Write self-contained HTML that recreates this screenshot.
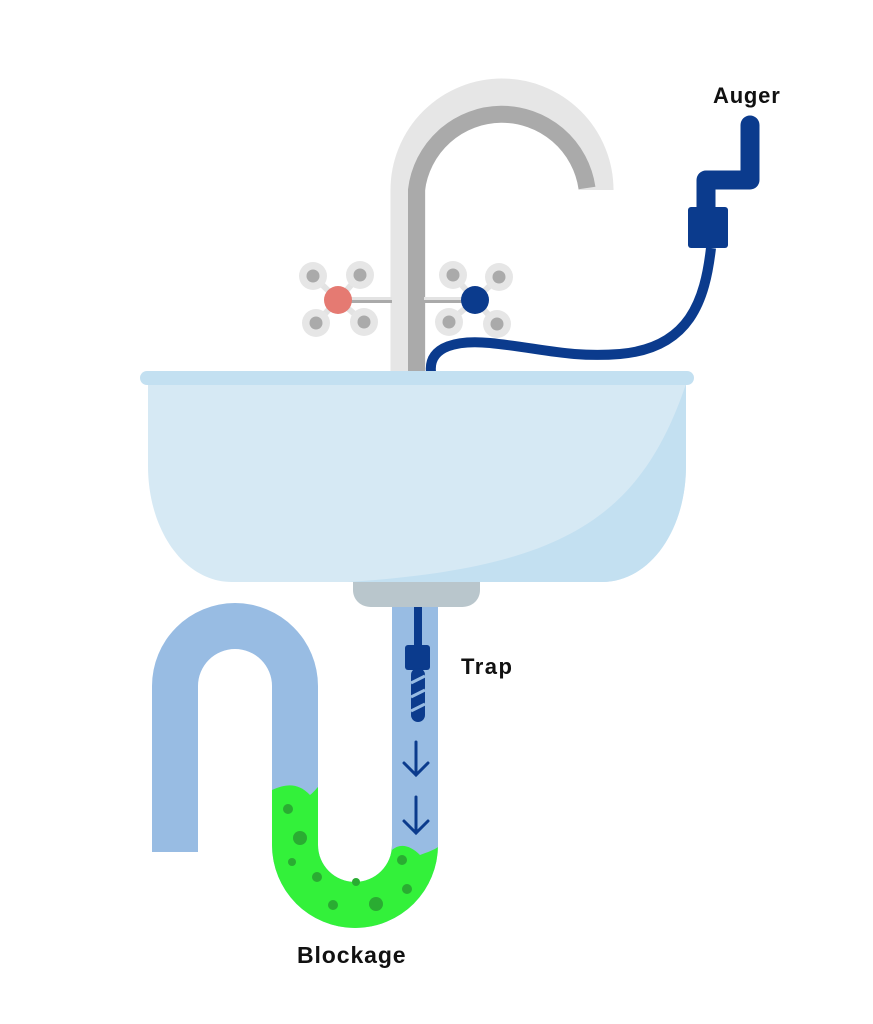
<!DOCTYPE html>
<html><head><meta charset="utf-8"><style>
html,body{margin:0;padding:0;background:#fff;}
svg{display:block}
text{font-family:"Liberation Sans",sans-serif;font-weight:bold;fill:#111}
</style></head><body>
<svg width="873" height="1024" viewBox="0 0 873 1024" xmlns="http://www.w3.org/2000/svg">
<!-- faucet -->
<path d="M408 372 V190 A94 94 0 0 1 596 190 V188" fill="none" stroke="#e6e6e6" stroke-width="35"/>
<path d="M416.5 372 V190 A86 86 0 0 1 587 188" fill="none" stroke="#aaaaaa" stroke-width="17"/>
<!-- handles -->
<g stroke="#e3e3e3" stroke-width="6">
<line x1="338" y1="300" x2="313" y2="276"/><line x1="338" y1="300" x2="360" y2="275"/>
<line x1="338" y1="300" x2="316" y2="323"/><line x1="338" y1="300" x2="364" y2="322"/>
<line x1="475" y1="300" x2="453" y2="275"/><line x1="475" y1="300" x2="499" y2="277"/>
<line x1="475" y1="300" x2="449" y2="322"/><line x1="475" y1="300" x2="497" y2="324"/>
</g>
<rect x="340" y="297" width="52" height="6" fill="#e3e3e3"/><rect x="340" y="300" width="52" height="3" fill="#aaa"/>
<rect x="424" y="297" width="50" height="6" fill="#e3e3e3"/><rect x="424" y="300" width="50" height="3" fill="#aaa"/>
<g fill="#e6e6e6">
<circle cx="313" cy="276" r="14"/><circle cx="360" cy="275" r="14"/><circle cx="316" cy="323" r="14"/><circle cx="364" cy="322" r="14"/>
<circle cx="453" cy="275" r="14"/><circle cx="499" cy="277" r="14"/><circle cx="449" cy="322" r="14"/><circle cx="497" cy="324" r="14"/>
</g>
<g fill="#aaaaaa">
<circle cx="313" cy="276" r="6.5"/><circle cx="360" cy="275" r="6.5"/><circle cx="316" cy="323" r="6.5"/><circle cx="364" cy="322" r="6.5"/>
<circle cx="453" cy="275" r="6.5"/><circle cx="499" cy="277" r="6.5"/><circle cx="449" cy="322" r="6.5"/><circle cx="497" cy="324" r="6.5"/>
</g>
<circle cx="338" cy="300" r="14" fill="#e57a72"/>
<circle cx="475" cy="300" r="14" fill="#0b3b8d"/>
<!-- auger -->
<path d="M431 372 C428 345 460 340 490 343 C540 348 570 358 620 354 C690 348 705 300 711 248" fill="none" stroke="#0b3b8d" stroke-width="10"/>
<path d="M750 125 V180 H706 V215" fill="none" stroke="#0b3b8d" stroke-width="19" stroke-linecap="round" stroke-linejoin="round"/>
<rect x="688" y="207" width="40" height="41" rx="3" fill="#0b3b8d"/>
<text x="713" y="103" font-size="22" letter-spacing="0.8">Auger</text>
<!-- sink -->
<path d="M148 384 H686 V466 C686 530 650 582 602 582 H232 C184 582 148 530 148 466 Z" fill="#d6e9f4"/>
<path d="M686 384 V466 C686 530 650 582 602 582 H348 C560 568 640 520 686 384 Z" fill="#c3e0f1"/>
<rect x="140" y="371" width="554" height="14" rx="7" fill="#c3e0f1"/>
<path d="M353 582 H480 V590 C480 600 472 607 462 607 H371 C361 607 353 600 353 590 Z" fill="#b9c6cc"/>
<!-- pipe -->
<path d="M152 852 V686 A83 83 0 0 1 318 686 V845 A37 37 0 0 0 392 845 V607 H438 V845 A83 83 0 0 1 272 845 V686 A37 37 0 0 0 198 686 V852 Z" fill="#98bce3"/>
<!-- green -->
<path d="M272 790 C285 784 298 782 310 795 C314 792 316 789 318 787 V845 A37 37 0 0 0 392 845 V850 C400 843 410 845 420 855 C428 852 434 850 438 847 V845 A83 83 0 0 1 272 845 Z" fill="#33f13a"/>
<g fill="#2aac32">
<circle cx="288" cy="809" r="5"/><circle cx="300" cy="838" r="7"/><circle cx="292" cy="862" r="4"/>
<circle cx="317" cy="877" r="5"/><circle cx="356" cy="882" r="4"/><circle cx="333" cy="905" r="5"/>
<circle cx="376" cy="904" r="7"/><circle cx="402" cy="860" r="5"/><circle cx="407" cy="889" r="5"/>
</g>
<!-- auger in pipe -->
<rect x="414" y="607" width="8" height="42" fill="#0b3b8d"/>
<rect x="405" y="645" width="25" height="25" rx="3" fill="#0b3b8d"/>
<rect x="411" y="668" width="14" height="54" rx="7" fill="#0b3b8d"/>
<g stroke="#98bce3" stroke-width="3"><line x1="411" y1="683" x2="425" y2="676"/><line x1="411" y1="697" x2="425" y2="690"/><line x1="411" y1="711" x2="425" y2="704"/></g>
<g fill="none" stroke="#0b3b8d" stroke-width="3" stroke-linecap="round">
<path d="M416 742 V773 M404 763 L416 775 L428 763"/>
<path d="M416 797 V831 M404 821 L416 833 L428 821"/>
</g>
<text x="461" y="674" font-size="22" letter-spacing="1.5">Trap</text>
<text x="297" y="963" font-size="23" letter-spacing="0.9">Blockage</text>
</svg>
</body></html>
